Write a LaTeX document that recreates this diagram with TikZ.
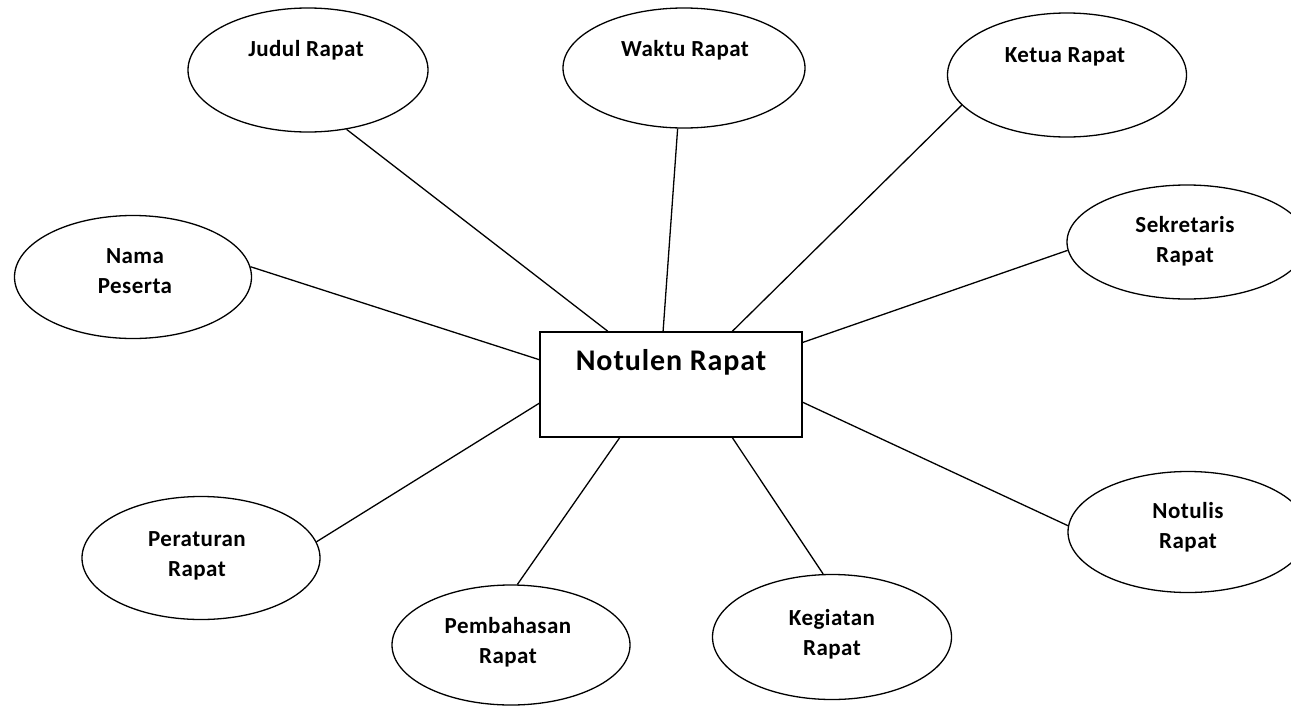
\documentclass[tikz,border=0pt]{standalone}
\usepackage{fontspec}
\setmainfont{Carlito}
\newfontfamily\topicfont[LetterSpace=2]{Carlito}
\newfontfamily\hubfont[LetterSpace=3]{Carlito}
\usetikzlibrary{shapes.geometric,calc}

\tikzset{
  bubble/.style={draw, ellipse, line width=1.3pt, inner sep=0pt,
    minimum width=240pt, minimum height=122pt},
  topic/.style={font=\topicfont\bfseries\fontsize{23}{30}\selectfont, align=center,
    inner sep=0pt, anchor=base},
  hub/.style={draw, rectangle, line width=1.6pt, inner sep=0pt,
    minimum width=262pt, minimum height=105pt},
  hubtext/.style={font=\hubfont\bfseries\fontsize{30}{34}\selectfont,
    inner sep=0pt, anchor=base},
  spoke/.style={line width=1.3pt}
}

\begin{document}
\begin{tikzpicture}[x=1pt, y=-1pt]
  \useasboundingbox (0,0) rectangle (1291,707);
  \clip (0,0) rectangle (1291,707);

  % central box
  \node[hub] (main) at (671,384.5) {};
  \node[hubtext] (mainlbl) at (671,370) {Notulen Rapat};

  % surrounding attributes (two-line labels are placed by their last baseline)
  \node[bubble, minimum width=240pt, minimum height=124pt] (judul) at (308,70) {};
  \node[topic] (judullbl) at (306,56) {Judul Rapat};

  \node[bubble, minimum width=242pt, minimum height=120pt] (waktu) at (684,68) {};
  \node[topic] (waktulbl) at (685,56) {Waktu Rapat};

  \node[bubble, minimum width=239pt, minimum height=124pt] (ketua) at (1067,75) {};
  \node[topic] (ketualbl) at (1065,62) {Ketua Rapat};

  \node[bubble, minimum width=237pt, minimum height=123pt] (nama) at (133,277) {};
  \node[topic] (namalbl) at (135,293) {Nama\\Peserta};

  \node[bubble, minimum width=240pt, minimum height=114pt] (sekre) at (1187,242) {};
  \node[topic] (sekrelbl) at (1185,262) {Sekretaris\\Rapat};

  \node[bubble, minimum width=238pt, minimum height=123pt] (atur) at (201,558) {};
  \node[topic] (aturlbl) at (197,576) {Peraturan\\Rapat};

  \node[bubble, minimum width=238pt, minimum height=120pt] (bahas) at (511,645) {};
  \node[topic] (bahaslbl) at (508,663) {Pembahasan\\Rapat};

  \node[bubble, minimum width=239pt, minimum height=125pt] (giat) at (832,637) {};
  \node[topic] (giatlbl) at (832,655) {Kegiatan\\Rapat};

  \node[bubble, minimum width=240pt, minimum height=121pt] (notulis) at (1188,532) {};
  \node[topic] (notulislbl) at (1188,548) {Notulis\\Rapat};

  % spokes from each attribute to the central box
  \draw[spoke] (judul.-57)  -- ($(main.north west)!0.26!(main.north east)$);
  \draw[spoke] (waktu.-96)  -- ($(main.north west)!0.47!(main.north east)$);
  \draw[spoke] (ketua.-164) -- ($(main.north west)!0.733!(main.north east)$);
  \draw[spoke] (nama.5)     -- ($(main.north west)!0.267!(main.south west)$);
  \draw[spoke] (sekre.184)  -- ($(main.north east)!0.105!(main.south east)$);
  \draw[spoke] (atur.8.6)   -- ($(main.north west)!0.676!(main.south west)$);
  \draw[spoke] (bahas.84)   -- ($(main.south west)!0.305!(main.south east)$);
  \draw[spoke] (giat.98)    -- ($(main.south west)!0.733!(main.south east)$);
  \draw[spoke] (notulis.177) -- ($(main.north east)!0.667!(main.south east)$);
\end{tikzpicture}
\end{document}
